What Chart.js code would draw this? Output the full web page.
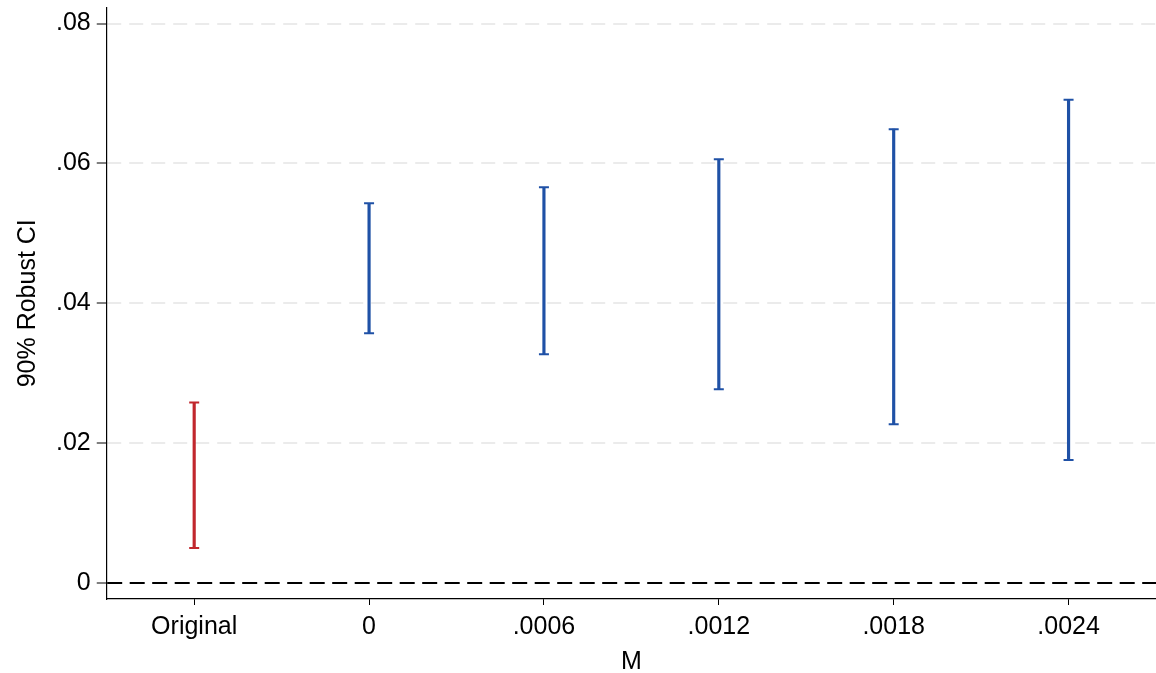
<!DOCTYPE html>
<html>
<head>
<meta charset="utf-8">
<title>90% Robust CI</title>
<script src="https://cdn.jsdelivr.net/npm/chart.js@4"></script>
<style>
  html, body { margin: 0; padding: 0; background: #fff; overflow: hidden; }
  #wrap { width: 1156px; height: 673px; }
</style>
</head>
<body>
<div id="wrap"><canvas id="ci-chart"></canvas></div>
<script>
// Categories on the x axis (values of M)
const categories = ['Original', '0', '.0006', '.0012', '.0018', '.0024'];
// Lower and upper ends of the 90% robust confidence intervals
const lowerCI = [0.0050, 0.0357, 0.0327, 0.0277, 0.0227, 0.0176];
const upperCI = [0.0258, 0.0543, 0.0566, 0.0606, 0.0649, 0.0691];
// Y axis ticks
const yTicks = [0, 0.02, 0.04, 0.06, 0.08];

const RED = '#c1272d';
const BLUE = '#1f51a6';
const barColors = categories.map((c, i) => i === 0 ? RED : BLUE);

window.onload = function() {
    const ctx = document.getElementById('ci-chart').getContext('2d');
    Chart.defaults.font.family = '"Liberation Sans", Arial, Helvetica, sans-serif';
    Chart.defaults.font.size = 25;
    Chart.defaults.color = '#000';

    // caps at both ends of each interval
    const capStyle = {
        type: 'line',
        showLine: false,
        pointStyle: 'line',
        pointRadius: 5,
        pointHoverRadius: 5,
        pointBorderWidth: 2,
        pointBorderColor: barColors,
        pointBackgroundColor: barColors
    };

    const data = {
        labels: categories,
        datasets: [
            {
                type: 'bar',
                data: lowerCI.map((lo, i) => [lo, upperCI[i]]),
                backgroundColor: barColors,
                borderWidth: 0,
                barThickness: 2.5
            },
            Object.assign({ data: upperCI }, capStyle),
            Object.assign({ data: lowerCI }, capStyle)
        ]
    };

    const isZero = v => Math.abs(v) < 1e-9;

    const config = {
        type: 'bar',
        data: data,
        options: {
            responsive: true,
            maintainAspectRatio: false,
            animation: false,
            layout: {
                autoPadding: false,
                padding: { top: 7.5, right: 0, bottom: 0, left: 0 }
            },
            plugins: {
                legend: { display: false },
                tooltip: { enabled: false }
            },
            scales: {
                x: {
                    offset: true,
                    grid: {
                        offset: false,
                        drawOnChartArea: false,
                        tickLength: 6,
                        tickColor: '#000',
                        tickWidth: 1
                    },
                    border: { color: '#000', width: 1.2 },
                    ticks: { padding: 7, maxRotation: 0, autoSkip: false },
                    title: {
                        display: true,
                        text: 'M',
                        font: { lineHeight: 1 },
                        padding: { top: 0.5, bottom: -1.5 }
                    }
                },
                y: {
                    min: -0.00229,
                    max: 0.0823,
                    afterBuildTicks: function(axis) {
                        axis.ticks = yTicks.map(v => ({ value: v }));
                    },
                    ticks: {
                        padding: 6,
                        font: { lineHeight: 0.05 },
                        callback: function(v) {
                            return isZero(v) ? '0' : v.toFixed(2).replace(/^0/, '');
                        }
                    },
                    grid: {
                        color: c => isZero(c.tick.value) ? '#000' : '#ebebeb',
                        lineWidth: 2,
                        tickColor: '#000',
                        tickWidth: 1,
                        tickLength: 10
                    },
                    border: {
                        color: '#000',
                        width: 1.2,
                        dash: c => isZero(c.tick.value) ? [15, 7.5] : [14, 8]
                    },
                    title: {
                        display: true,
                        text: '90% Robust CI',
                        padding: { top: 13, bottom: 7 }
                    }
                }
            }
        }
    };

    new Chart(ctx, config);
};
</script>
</body>
</html>
